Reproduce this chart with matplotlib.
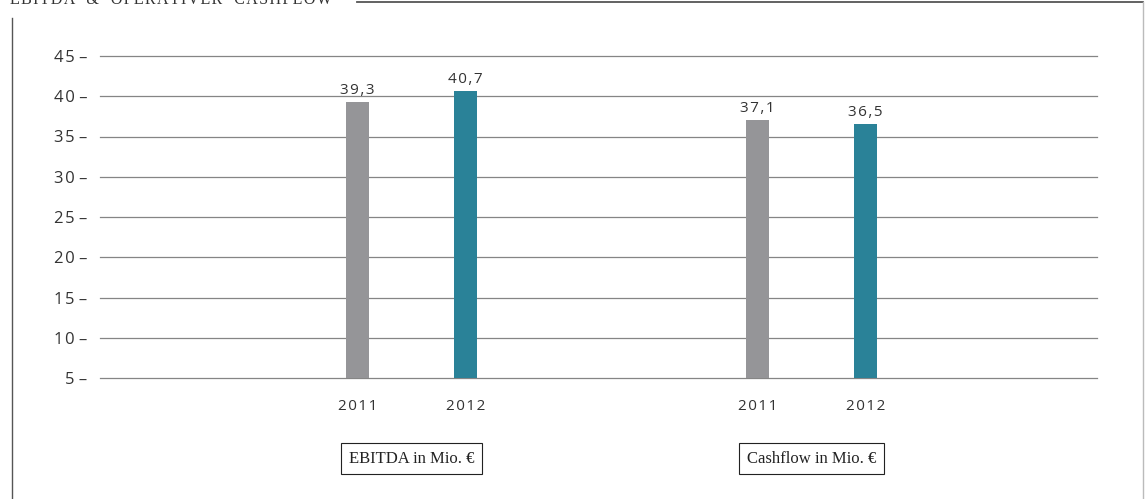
"""EBITDA & operativer Cashflow, grouped bars 2011 vs 2012."""
import matplotlib

matplotlib.use("Agg")

import matplotlib.pyplot as plt
from matplotlib.lines import Line2D
from matplotlib.transforms import ScaledTranslation

GREY_BAR = "#959598"
TEAL = "#2a8298"
GRID = "#858585"
INK = "#333333"
SANS = ["Open Sans", "DejaVu Sans"]
SERIF = ["Liberation Serif", "DejaVu Serif"]
HS = "\u200a"  # hair space, poor man's letter spacing

groups = ["EBITDA in Mio. €", "Cashflow in Mio. €"]
years = ["2011", "2012"]
values_2011 = [39.3, 37.1]
values_2012 = [40.7, 36.5]
yticks = [5, 10, 15, 20, 25, 30, 35, 40, 45]
heading = "EBITDA & OPERATIVER CASHFLOW"

W, H = 1145, 499
fig = plt.figure(figsize=(W / 100, H / 100), dpi=100)


def px(x, y):
    # pixel coords (top-left origin) -> figure fraction
    return x / W, 1 - y / H


def spaced(s, sep=HS):
    return sep.join(s)


# axes spans gridline area: x 100..1097, y 56..378
ax = fig.add_axes([100 / W, 1 - 378 / H, 997 / W, 322 / H])
ax.set_xlim(-0.77875, 1.71375)
ax.set_ylim(5, 45)
for s in ax.spines.values():
    s.set_visible(False)
ax.set_yticks(yticks)
ax.set_yticklabels([spaced(str(t)) + " \u2013" for t in yticks], family=SANS,
                   fontsize=12, color=INK)
ax.tick_params(axis="y", length=0, pad=9)
ax.set_xticks([])
for t in yticks:
    ax.axhline(t, color=GRID, lw=0.9, zorder=0, clip_on=False)

down = ScaledTranslation(0, -29 / 100, fig.dpi_scale_trans)
off, bw = 0.135, 0.0575
for i, g in enumerate(groups):
    for j, (vals, col) in enumerate([(values_2011, GREY_BAR), (values_2012, TEAL)]):
        xc = i + (j - 0.5) * 2 * off
        ax.bar(xc, vals[i] - 5, bottom=5, width=bw, color=col, zorder=2)
        ax.text(xc, vals[i] + 0.5, spaced(f"{vals[i]:.1f}".replace(".", ",")),
                ha="center", va="bottom", family=SANS, fontsize=11,
                color=INK)
        ax.text(xc, 5, spaced(years[j]), transform=ax.transData + down,
                ha="center", va="center", family=SANS, fontsize=11, color=INK)
    ax.annotate(g, xy=(i, 5), xycoords="data", xytext=(0, -58),
                textcoords="offset points", ha="center", va="center",
                family=SERIF, fontsize=12, color="#222222",
                bbox=dict(boxstyle="square,pad=0.45", fc="white",
                          ec="#222222", lw=0.8))

# frame and clipped heading
fig.add_artist(Line2D(*zip(px(12, 18), px(12, 499)), color="#555555", lw=1.0))
fig.add_artist(Line2D(*zip(px(357, 2), px(1143, 2)), color="#555555", lw=1.3))
fig.add_artist(Line2D(*zip(px(1143, 2), px(1143, 499)), color="#bbbbbb", lw=1.0))
words = [spaced(w) for w in heading.split(" ")]
fig.text(*px(10, 4), "   ".join(words), family=SERIF, fontsize=11.5,
         color=INK, va="baseline")

fig.savefig("out.png", dpi=100)
